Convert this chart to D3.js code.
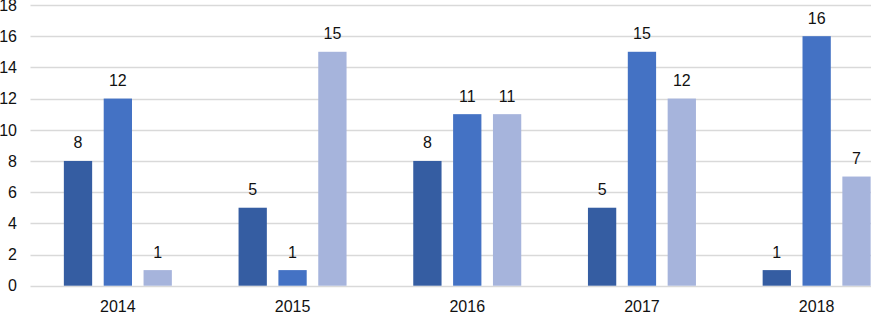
<!DOCTYPE html>
<html>
  <head>
    <meta charset="utf-8">
    <title>Grouped bars 2014-2018</title>
    <script src="https://d3js.org/d3.v7.min.js"></script>
    <style>
      html, body { margin: 0; padding: 0; background: #fff; overflow: hidden; }
      svg { display: block; font-family: "Liberation Sans", Arial, sans-serif; }
    </style>
  </head>
  <body>
    <div id="chart"></div>
    <script>
      // data
      var years = ["2014", "2015", "2016", "2017", "2018"];
      var series = ["A", "B", "C"];
      var seriesA = [8, 5, 8, 5, 1];
      var seriesB = [12, 1, 11, 15, 16];
      var seriesC = [1, 15, 11, 12, 7];
      var yTicks = [0, 2, 4, 6, 8, 10, 12, 14, 16, 18];
      var colors = ["#355da2", "#4472c4", "#a6b4dc"];

      var values = [seriesA, seriesB, seriesC];
      var data = years.map(function(y, i) {
        return { year: y, vals: series.map(function(s, j) { return { key: s, value: values[j][i] }; }) };
      });

      var W = 871, H = 312;
      // plot area (the right side runs past the window, as in the original crop)
      var plotLeft = 30.5, plotRight = 904, plotTop = 5, plotBottom = 285.7;

      var svg = d3.select("#chart")
        .append("svg")
        .attr("width", W)
        .attr("height", H);

      var x0 = d3.scaleBand()
        .domain(years)
        .range([plotLeft, plotRight])
        .paddingInner(0)
        .paddingOuter(0);

      // group of three bars about 108px wide inside a ~175px band
      var groupW = 108;
      var x1 = d3.scaleBand()
        .domain(series)
        .range([0, groupW])
        .paddingInner(0.29)
        .paddingOuter(0);

      var y = d3.scaleLinear()
        .domain([0, 18])
        .range([plotBottom, plotTop]);

      // gridlines
      svg.append("g")
        .selectAll("line")
        .data(yTicks)
        .enter()
        .append("line")
        .attr("x1", plotLeft)
        .attr("x2", W)
        .attr("y1", function(d) { return Math.round(y(d)) + 0.5; })
        .attr("y2", function(d) { return Math.round(y(d)) + 0.5; })
        .attr("stroke", "#d9d9d9")
        .attr("stroke-width", 1.3);

      // y axis labels
      svg.append("g")
        .selectAll("text")
        .data(yTicks)
        .enter()
        .append("text")
        .text(function(d) { return d; })
        .attr("x", 17)
        .attr("y", function(d) { return y(d); })
        .attr("dy", "0.36em")
        .attr("text-anchor", "end")
        .attr("font-size", "16px")
        .attr("fill", "#111");

      var groups = svg.selectAll("g.year")
        .data(data)
        .enter()
        .append("g")
        .attr("class", "year")
        .attr("transform", function(d) {
          return "translate(" + (x0(d.year) + (x0.bandwidth() - groupW) / 2) + ",0)";
        });

      groups.selectAll("rect")
        .data(function(d) { return d.vals; })
        .enter()
        .append("rect")
        .attr("x", function(d) { return x1(d.key); })
        .attr("y", function(d) { return y(d.value); })
        .attr("width", x1.bandwidth())
        .attr("height", function(d) { return y(0) - y(d.value); })
        .attr("fill", function(d, i) { return colors[i]; });

      // value labels
      groups.selectAll("text.val")
        .data(function(d) { return d.vals; })
        .enter()
        .append("text")
        .attr("class", "val")
        .text(function(d) { return d.value; })
        .attr("x", function(d) { return x1(d.key) + x1.bandwidth() / 2; })
        .attr("y", function(d) { return y(d.value) - 12.5; })
        .attr("text-anchor", "middle")
        .attr("font-size", "16px")
        .attr("fill", "#111");

      // x axis labels
      svg.append("g")
        .selectAll("text")
        .data(years)
        .enter()
        .append("text")
        .text(function(d) { return d; })
        .attr("x", function(d) { return x0(d) + x0.bandwidth() / 2; })
        .attr("y", 311.5)
        .attr("text-anchor", "middle")
        .attr("font-size", "16px")
        .attr("fill", "#111");
    </script>
  </body>
</html>
